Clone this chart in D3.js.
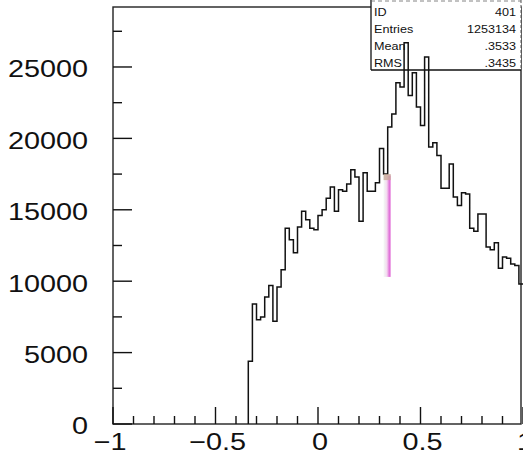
<!DOCTYPE html>
<html>
<head>
<meta charset="utf-8">
<script src="https://cdn.jsdelivr.net/npm/d3@7"></script>
<style>
  body { margin: 0; background: #fff; }
  svg { display: block; }
  text { font-family: "Liberation Sans", Arial, sans-serif; fill: #111; }
</style>
</head>
<body>
<div id="chart"></div>
<script>
// histogram: 0.02 wide bins, first filled bin starts at -0.34
const binStart = -0.34;
const binWidth = 0.02;
const counts = [
  4400, 8400, 7300, 7500, 8900, 9700, 7200, 9600, 10800, 13700,
  12900, 12000, 13800, 14900, 14300, 13700, 13600, 14600, 15000, 15800,
  16600, 14900, 16400, 16300, 16800, 17800, 17300, 14200, 17600, 16300,
  16300, 16900, 19300, 17500, 20800, 21700, 23900, 23600, 26700, 23000,
  24600, 22200, 20900, 25700, 19400, 19700, 18800, 16500, 16500, 18200,
  15900, 15300, 16200, 16100, 13700, 13500, 14700, 14700, 12400, 12200,
  12700, 10900, 11700, 11600, 11200, 11100, 9800
];

const xTicks = [-1, -0.5, 0, 0.5, 1];
const xMinor = d3.range(-1, 1.0001, 0.1);
const yTicks = [0, 5000, 10000, 15000, 20000, 25000];
const yMinor = d3.range(0, 29000, 2500);

const statsLabels = ["ID", "Entries", "Mean", "RMS"];
const statsValues = ["401", "1253134", ".3533", ".3435"];

const W = 523, H = 454;
const margin = {top: 7, right: 0, bottom: 30, left: 113};
const yMax = 29200;

const svg = d3.select("#chart").append("svg")
    .attr("width", W)
    .attr("height", H);

const x = d3.scaleLinear().domain([-1, 1]).range([margin.left, W]);
const y = d3.scaleLinear().domain([0, yMax]).range([H - margin.bottom, margin.top]);

// gradient for the highlighter stroke
const defs = svg.append("defs");
const grad = defs.append("linearGradient").attr("id", "pink")
    .attr("x1", "0%").attr("x2", "100%").attr("y1", "0%").attr("y2", "0%");
grad.append("stop").attr("offset", "0%").attr("stop-color", "#f2fbf4");
grad.append("stop").attr("offset", "45%").attr("stop-color", "#f4d8f0");
grad.append("stop").attr("offset", "80%").attr("stop-color", "#e070d8");
grad.append("stop").attr("offset", "100%").attr("stop-color", "#e890e0");

// frame
svg.append("rect")
    .attr("x", x(-1)).attr("y", y(yMax))
    .attr("width", x(1) - x(-1) - 2)
    .attr("height", y(0) - y(yMax))
    .attr("fill", "none")
    .attr("stroke", "#222")
    .attr("stroke-width", 1.4);

// y ticks (inward)
const yAxis = svg.append("g");
yAxis.selectAll(".ymin").data(yMinor).enter().append("line")
    .attr("x1", x(-1)).attr("x2", d => x(-1) + (d % 5000 === 0 ? 19 : 9))
    .attr("y1", d => y(d)).attr("y2", d => y(d))
    .attr("stroke", "#111").attr("stroke-width", 1.4);

yAxis.selectAll(".ylab").data(yTicks).enter().append("text")
    .attr("class", "lab")
    .attr("x", 88)
    .attr("y", d => y(d) + 4)
    .attr("text-anchor", "end")
    .attr("dominant-baseline", "middle")
    .attr("font-size", 24)
    .text(d => d);

// x ticks (upward)
const xAxis = svg.append("g");
xAxis.selectAll(".xmin").data(xMinor).enter().append("line")
    .attr("x1", d => x(d)).attr("x2", d => x(d))
    .attr("y1", y(0))
    .attr("y2", d => y(0) - (Math.abs(Math.round(d * 10)) % 5 === 0 ? 17 : 8))
    .attr("stroke", "#111").attr("stroke-width", 1.4);

xAxis.selectAll(".xlab").data(xTicks).enter().append("text")
    .attr("class", "lab")
    .attr("x", d => x(d) + (d === -1 ? -3 : 2))
    .attr("y", 450)
    .attr("text-anchor", "middle")
    .attr("font-size", 24)
    .text(d => d3.format("")(d).replace("-", "\u2212"));

// histogram outline
const pts = [[x(binStart), y(0)]];
counts.forEach((c, i) => {
    const lo = binStart + i * binWidth;
    pts.push([x(lo), y(c)]);
    pts.push([x(lo + binWidth), y(c)]);
});
svg.append("path")
    .attr("d", d3.line()(pts))
    .attr("fill", "none")
    .attr("stroke", "#111")
    .attr("stroke-width", 1.5);

// highlighter mark over the histogram
const bandLo = 0.32, bandHi = 0.355;
svg.append("rect")
    .attr("x", x(bandLo)).attr("y", y(17400))
    .attr("width", x(bandHi) - x(bandLo))
    .attr("height", y(10300) - y(17400))
    .attr("fill", "url(#pink)");
svg.append("rect")
    .attr("x", x(bandLo)).attr("y", y(17500))
    .attr("width", x(bandHi) - x(bandLo))
    .attr("height", 6)
    .attr("fill", "#c9aa98")
    .attr("opacity", 0.8);

// stats box
const box = svg.append("g");
const bx0 = 371, bx1 = 521, by1 = 70;
box.append("rect")
    .attr("x", bx0).attr("y", 0)
    .attr("width", bx1 - bx0).attr("height", by1)
    .attr("fill", "#fff");
box.append("line").attr("x1", bx0).attr("x2", bx0).attr("y1", 0).attr("y2", by1)
    .attr("stroke", "#111").attr("stroke-width", 1.3);
box.append("line").attr("x1", bx0).attr("x2", bx1).attr("y1", by1).attr("y2", by1)
    .attr("stroke", "#111").attr("stroke-width", 1.3);
box.append("line").attr("x1", bx1).attr("x2", bx1).attr("y1", 0).attr("y2", by1)
    .attr("stroke", "#555").attr("stroke-width", 1).attr("stroke-dasharray", "3,2");
box.append("line").attr("x1", bx0).attr("x2", bx1).attr("y1", 1).attr("y2", 1)
    .attr("stroke", "#666").attr("stroke-width", 0.8).attr("stroke-dasharray", "4,3");

// peaks of the histogram show through above the box line
const peakIdx = [38, 43];
peakIdx.forEach(i => {
    const lo = binStart + i * binWidth;
    if (y(counts[i]) < by1) {
        box.append("path")
            .attr("d", d3.line()([[x(lo), by1], [x(lo), y(counts[i])], [x(lo + binWidth), y(counts[i])], [x(lo + binWidth), by1]]))
            .attr("fill", "none").attr("stroke", "#111").attr("stroke-width", 1.5);
    }
});

box.selectAll(".sl").data(statsLabels).enter().append("text")
    .attr("class", "lab")
    .attr("x", bx0 + 3)
    .attr("y", (d, i) => 16 + i * 17)
    .attr("font-size", 10.5)
    .text(d => d);
box.selectAll(".sv").data(statsValues).enter().append("text")
    .attr("class", "lab")
    .attr("x", bx1 - 5)
    .attr("y", (d, i) => 16 + i * 17)
    .attr("text-anchor", "end")
    .attr("font-size", 10.5)
    .text(d => d);

// the scan is a little stretched sideways
svg.selectAll("text.lab").each(function() {
    const t = d3.select(this);
    t.attr("textLength", this.getComputedTextLength() * 1.2)
     .attr("lengthAdjust", "spacingAndGlyphs");
});
</script>
</body>
</html>
